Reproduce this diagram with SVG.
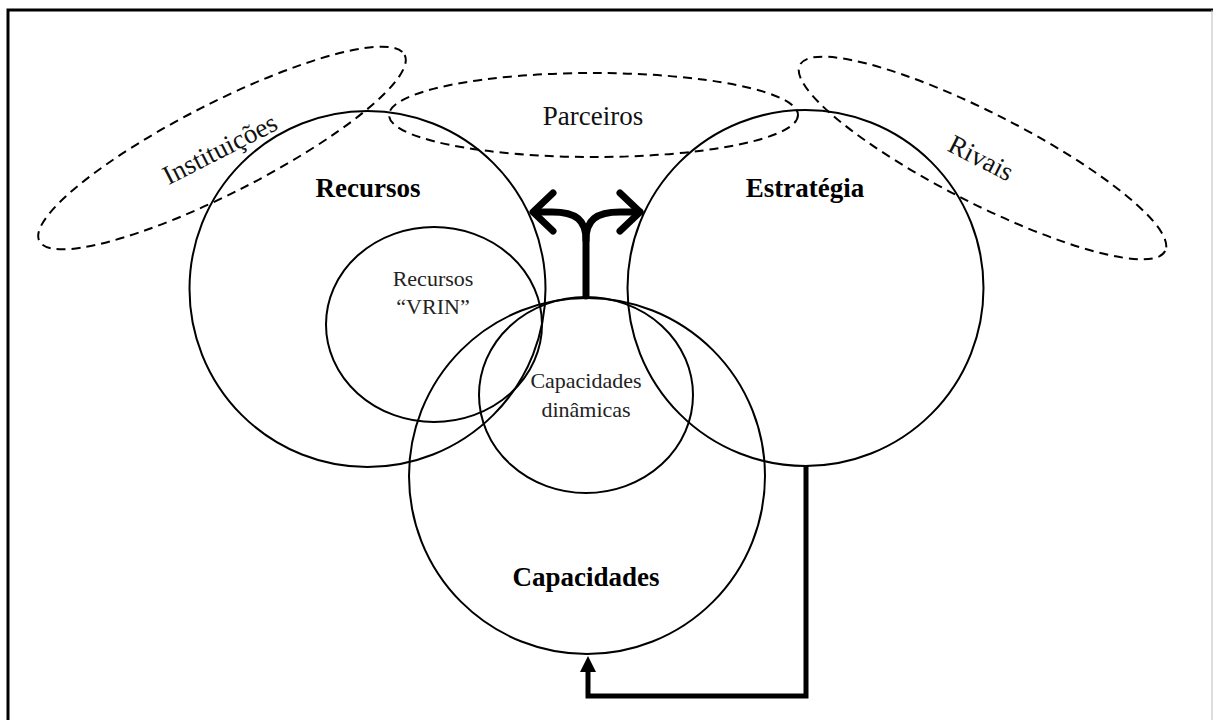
<svg xmlns="http://www.w3.org/2000/svg" width="1213" height="720" viewBox="0 0 1213 720">
  <style>
    .ring { fill: none; stroke: #000; stroke-width: 2; }
    .env { fill: none; stroke: #000; stroke-width: 2; stroke-dasharray: 9 6; }
    .bold { font-family: "Liberation Serif", "Times New Roman", serif; font-weight: bold; font-size: 27px; fill: #000; text-anchor: middle; }
    .env-label { font-family: "Liberation Serif", "Times New Roman", serif; font-size: 27px; fill: #111; text-anchor: middle; }
    .inner-label { font-family: "Liberation Serif", "Times New Roman", serif; font-size: 22px; fill: #222; text-anchor: middle; }
    .fork { fill: none; stroke: #000; stroke-width: 7; stroke-linecap: round; stroke-linejoin: round; }
    .loop { fill: none; stroke: #000; stroke-width: 5; stroke-linejoin: miter; }
  </style>
  <defs>
    <marker id="headSolid" markerWidth="16" markerHeight="16" refX="8" refY="1" orient="auto" markerUnits="userSpaceOnUse" viewBox="0 0 16 16">
      <path d="M8,1 L16,16 L0,16 Z" fill="#000"/>
    </marker>
  </defs>

  <rect width="1213" height="720" fill="#fff"/>
  <!-- frame -->
  <path d="M8,720 V10 H1213" fill="none" stroke="#000" stroke-width="3"/>
  <line x1="1212" y1="10" x2="1212" y2="720" stroke="#bbb" stroke-width="1"/>

  <!-- surrounding actors -->
  <g id="instituicoes">
    <ellipse class="env" cx="222" cy="148" rx="205" ry="45" transform="rotate(-27 222 148)"/>
    <text class="env-label" x="224" y="157" transform="rotate(-27 224 157)">Instituições</text>
  </g>
  <g id="parceiros">
    <ellipse class="env" cx="593.5" cy="115" rx="204.5" ry="42"/>
    <text class="env-label" x="593" y="125">Parceiros</text>
  </g>
  <g id="rivais">
    <ellipse class="env" cx="982.5" cy="158" rx="205" ry="45" transform="rotate(27 982.5 158)"/>
    <text class="env-label" x="977" y="166" transform="rotate(27 977 166)">Rivais</text>
  </g>

  <!-- firm elements -->
  <g id="recursos">
    <circle class="ring" cx="367.5" cy="289" r="178"/>
    <text class="bold" x="368" y="197">Recursos</text>
  </g>
  <g id="recursos-vrin">
    <ellipse class="ring" cx="434" cy="324.5" rx="108" ry="97.5"/>
    <text class="inner-label" x="433" y="286">Recursos</text>
    <text class="inner-label" x="433" y="314">“VRIN”</text>
  </g>
  <g id="estrategia">
    <circle class="ring" cx="805.5" cy="288" r="178"/>
    <text class="bold" x="805" y="197">Estratégia</text>
  </g>
  <g id="capacidades">
    <circle class="ring" cx="587" cy="476" r="178"/>
    <text class="bold" x="586" y="586">Capacidades</text>
  </g>
  <g id="capacidades-dinamicas">
    <ellipse class="ring" cx="586" cy="395" rx="107" ry="98"/>
    <text class="inner-label" x="586" y="388">Capacidades</text>
    <text class="inner-label" x="586" y="417">dinâmicas</text>
  </g>

  <!-- connectors -->
  <g id="connectors">
    <!-- forked arrow from capacidades towards recursos and estratégia -->
    <path class="fork" d="M586,296 V240 C586,220 576,212 552,212 H534"/>
    <path class="fork" d="M586,240 C586,220 596,212 620,212 H640"/>
    <path class="fork" d="M553,193 L533,212 L553,231"/>
    <path class="fork" d="M620,193 L640,212 L620,231"/>
    <!-- feedback loop from estratégia back to capacidades -->
    <path class="loop" d="M806,466 V696 H588 V670"/>
    <path d="M588,656 L596,672 L580,672 Z" fill="#000"/>
  </g>
</svg>
